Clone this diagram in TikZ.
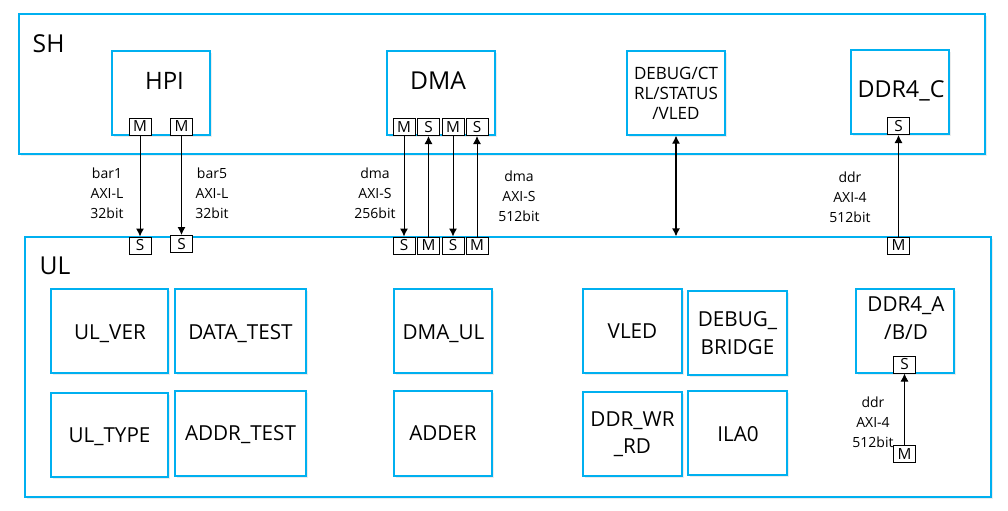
\documentclass[tikz,border=0pt]{standalone}
\usepackage{fontspec}
\setmainfont{Open Sans}
\usetikzlibrary{arrows.meta,shadows}
\newlength{\du}
\setlength{\du}{0.75pt}
\definecolor{boxblue}{rgb}{0.000000, 0.690196, 0.941176}
\definecolor{linecolor}{rgb}{0.000000, 0.000000, 0.000000}
\tikzset{
  blk/.style={draw=boxblue, line width=1.2\du, fill=white, inner sep=0pt,
    drop shadow={shadow xshift=1.5\du, shadow yshift=-2\du, opacity=0.15, fill=gray}},
  port/.style={draw=linecolor, line width=1\du, fill=white, inner sep=0pt,
    minimum width=22\du, minimum height=17\du, font=\fontsize{11.5}{12}\selectfont},
  bus/.style={draw=linecolor, line width=1\du, -{Latex[length=6pt,width=6pt]}},
  bibus/.style={draw=linecolor, line width=1.2\du, {Latex[length=6pt,width=6pt]}-{Latex[length=6pt,width=6pt]}},
  buslbl/.style={align=center, font=\fontsize{10.5}{15}\selectfont},
  bigtxt/.style={anchor=base, font=\fontsize{18.5}{22}\selectfont},
  midtxt/.style={align=center, font=\fontsize{15.5}{20.5}\selectfont},
}

\begin{document}
\begin{tikzpicture}
\pgftransformxscale{1.000000}
\pgftransformyscale{-1.000000}
\useasboundingbox (0\du,0\du) rectangle (1008\du,511\du);
% outer blocks
\node[blk, minimum width=966\du, minimum height=140\du] (sh) at (502\du,84\du) {};
\node[blk, minimum width=966\du, minimum height=260\du] (ul) at (508\du,367\du) {};
\node[bigtxt, anchor=base west] (shtxt) at (28\du,52\du) {SH};
\node[bigtxt, anchor=base west] (ultxt) at (35\du,274\du) {UL};
% SH side
\node[blk, minimum width=98\du, minimum height=84\du] (hpi) at (161\du,93\du) {};
\node[bigtxt, font=\fontsize{18}{22}\selectfont] (hpitxt) at (164.5\du,89\du) {HPI};
\node[blk, minimum width=108\du, minimum height=84\du] (dma) at (441\du,93\du) {};
\node[bigtxt] (dmatxt) at (438\du,89\du) {DMA};
\node[blk, minimum width=98\du, minimum height=84\du, align=center,
  font=\fontsize{12.75}{15}\selectfont] (debug) at (676\du,93\du) {DEBUG/CT\\RL/STATUS\\/VLED};
\node[blk, minimum width=98\du, minimum height=84\du] (ddrc) at (900\du,92\du) {};
\node[bigtxt, font=\fontsize{17.5}{22}\selectfont] (ddrctxt) at (901\du,97.5\du) {DDR4\_C};
% UL side
\node[blk, minimum width=117\du, minimum height=84\du] (ulver) at (109.5\du,331\du) {};
\node[anchor=base, font=\fontsize{15.5}{20}\selectfont] (ulvertxt) at (110\du,339\du) {UL\_VER};
\node[blk, minimum width=131\du, minimum height=84\du] (datatest) at (240.5\du,331\du) {};
\node[anchor=base, font=\fontsize{15.5}{20}\selectfont] (datatesttxt) at (240.5\du,339\du) {DATA\_TEST};
\node[blk, minimum width=117\du, minimum height=84\du] (ultype) at (109.5\du,435\du) {};
\node[anchor=base, font=\fontsize{15.5}{20}\selectfont] (ultypetxt) at (109.5\du,442\du) {UL\_TYPE};
\node[blk, minimum width=131\du, minimum height=85\du] (addrtest) at (240.5\du,433.5\du) {};
\node[anchor=base, font=\fontsize{15.5}{20}\selectfont] (addrtesttxt) at (240.5\du,440\du) {ADDR\_TEST};
\node[blk, minimum width=98\du, minimum height=84\du] (dmaul) at (443\du,331\du) {};
\node[anchor=base, font=\fontsize{15.5}{20}\selectfont] (dmaultxt) at (443.5\du,339\du) {DMA\_UL};
\node[blk, minimum width=98\du, minimum height=85\du] (adder) at (443\du,433.5\du) {};
\node[anchor=base, font=\fontsize{15.5}{20}\selectfont] (addertxt) at (443\du,440\du) {ADDER};
\node[blk, minimum width=99\du, minimum height=84\du] (vled) at (632.5\du,331\du) {};
\node[anchor=base, font=\fontsize{15.5}{20}\selectfont] (vledtxt) at (632.5\du,338\du) {VLED};
\node[blk, minimum width=99\du, minimum height=84\du, midtxt] (dbgbridge) at (737.5\du,333\du) {DEBUG\_\\BRIDGE};
\node[blk, minimum width=99\du, minimum height=84\du, midtxt] (ddrwrrd) at (632.5\du,434\du) {DDR\_WR\\\_RD};
\node[blk, minimum width=99\du, minimum height=84\du] (ila) at (737.5\du,433\du) {};
\node[anchor=base, font=\fontsize{15.5}{20}\selectfont] (ilatxt) at (738\du,441\du) {ILA0};
\node[blk, minimum width=98\du, minimum height=84\du] (ddrabd) at (905\du,331\du) {};
\node[midtxt] (ddrabdtxt) at (906\du,318\du) {DDR4\_A\\/B/D};
% ports
\node[port] (hpim1) at (140\du,126.5\du) {M};
\node[port] (hpim2) at (181.5\du,126.5\du) {M};
\node[port] (ulbar1) at (140\du,245.5\du) {S};
\node[port] (ulbar5) at (181.5\du,244\du) {S};
\node[port] (dmam1) at (404\du,127\du) {M};
\node[port] (dmas1) at (428.5\du,127\du) {S};
\node[port] (dmam2) at (453\du,127\du) {M};
\node[port] (dmas2) at (477\du,127\du) {S};
\node[port] (uldmas1) at (404\du,245.5\du) {S};
\node[port] (uldmam1) at (428.5\du,245.5\du) {M};
\node[port] (uldmas2) at (453\du,245.5\du) {S};
\node[port] (uldmam2) at (477\du,245.5\du) {M};
\node[port] (ddrcs) at (898.5\du,126\du) {S};
\node[port] (ulddrm) at (898.5\du,245.5\du) {M};
\node[port] (ddrabds) at (904.5\du,364.5\du) {S};
\node[port] (ddrabdm) at (904.5\du,454\du) {M};
% connectors
\draw[bus] (hpim1) -- (ulbar1);
\draw[bus] (hpim2) -- (ulbar5);
\draw[bus] (dmam1) -- (uldmas1);
\draw[bus] (uldmam1) -- (dmas1);
\draw[bus] (dmam2) -- (uldmas2);
\draw[bus] (uldmam2) -- (dmas2);
\draw[bus] (ulddrm) -- (ddrcs);
\draw[bus] (ddrabdm) -- (ddrabds);
\draw[bibus] (debug.south) -- (debug.south |- ul.north);
% bus labels
\node[buslbl] (bar1lbl) at (107\du,193\du) {bar1\\AXI-L\\32bit};
\node[buslbl] (bar5lbl) at (212\du,193\du) {bar5\\AXI-L\\32bit};
\node[buslbl] (dmalbla) at (375\du,193\du) {dma\\AXI-S\\256bit};
\node[buslbl] (dmalblb) at (519\du,196\du) {dma\\AXI-S\\512bit};
\node[buslbl] (ddrlbla) at (850\du,197\du) {ddr\\AXI-4\\512bit};
\node[buslbl] (ddrlblb) at (873\du,422\du) {ddr\\AXI-4\\512bit};
\end{tikzpicture}
\end{document}
